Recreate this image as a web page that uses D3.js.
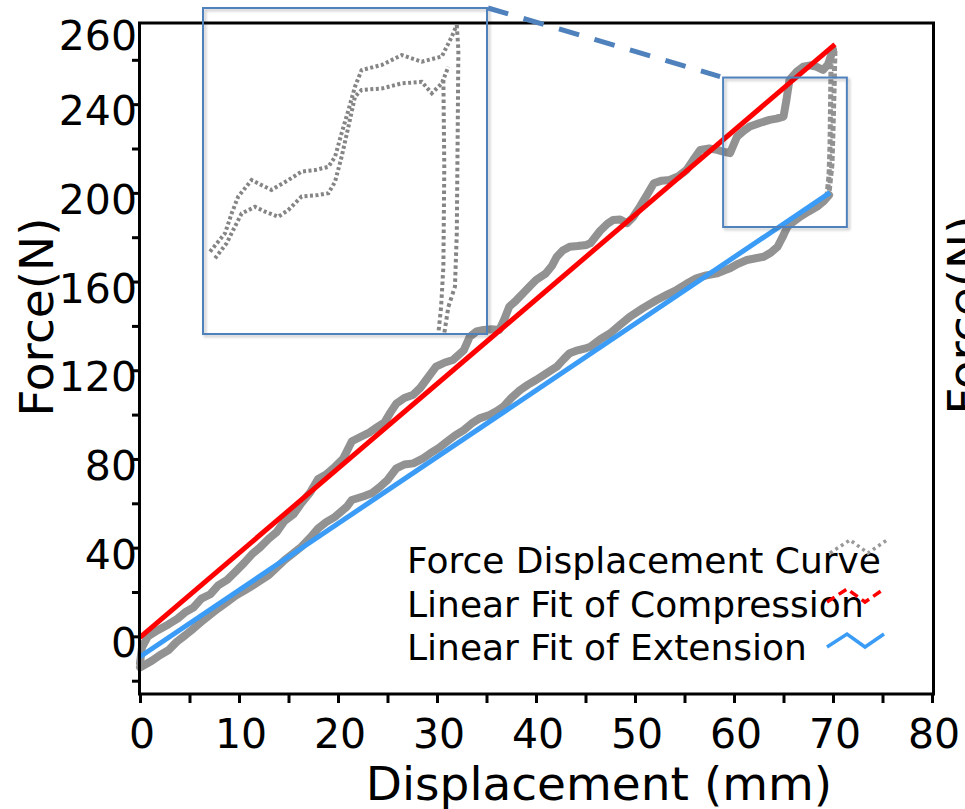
<!DOCTYPE html>
<html>
<head>
<meta charset="utf-8">
<script src="https://cdn.jsdelivr.net/npm/d3@7/dist/d3.min.js"></script>
<style>
  html, body { margin: 0; padding: 0; background: #fff; }
  svg { display: block; font-family: "DejaVu Sans", Verdana, sans-serif; }
</style>
</head>
<body>
<svg id="chart" width="965" height="809"></svg>
<script>
// ---------------- DATA ----------------
const xTickValues = [0,5,10,15,20,25,30,35,40,45,50,55,60,65,70,75,80];
const xLabelValues = [0,10,20,30,40,50,60,70,80];
const yTickValues = [-20,0,20,40,60,80,100,120,140,160,180,200,220,240,260];
const yLabelValues = [0,40,80,120,160,200,240,274];
const yLabelTexts  = ["0","40","80","120","160","200","240","260"];

// Compression (loading) branch: [displacement mm, force N]
const compressionCurve = [
  [0,-12],[0.2,-5],[0.8,0],[1.8,2.8],[2.9,5.5],[3.8,8],[4.6,11],[5.4,13],[6.2,17],[7.1,19],
  [7.9,23],[8.8,25.5],[9.6,29],[10.5,33],[11.3,37],[12.1,40],[13.0,44],[13.8,47],[14.6,52],
  [15.5,55],[16.3,60],[17.2,65],[18.0,71],[18.8,73],[19.7,76.5],[20.5,80],[21.4,88],[22.3,90],
  [23.2,92],[24.0,94.5],[24.7,96.5],[25.3,101],[25.9,105],[26.7,107.5],[27.6,109],[28.3,112],
  [28.9,115.6],[29.9,121.6],[30.8,123.5],[31.6,124.6],[32.2,127],[32.7,129],[33.3,135],
  [34.0,137.5],[34.7,138.2],[35.5,138.5],[36.3,138.2],[36.8,143],[37.3,148.7],[38.0,151.5],
  [38.7,154.7],[39.4,158],[40.0,160.7],[41.0,163.7],[41.6,167],[42.1,171.2],[42.7,174],
  [43.4,175.7],[44.2,176],[45.1,176.5],[45.5,177.3],[46.5,183],[47.2,186],[47.8,187.8],
  [48.5,188],[49.2,186.3],[49.8,189],[50.5,193.8],[51.2,199],[51.9,204.3],[52.7,205.5],
  [53.5,205.8],[54.4,207.5],[55.2,210.3],[55.9,215],[56.6,219.4],[57.5,220],[58.3,219.4],
  [59.0,218.5],[59.6,217.9],[60.3,225.3],[61.0,228],[61.6,229.9],[62.6,231.5],[63.6,232.9],
  [64.3,233.5],[65.0,234.4],[65.3,242],[65.6,250.9],[66.3,254.5],[67.0,256.9],[67.7,257.5],
  [68.3,256.9],[69.0,255.4],[69.5,258],[70.0,264.5]
];
// Extension (unloading) branch
const extensionCurve = [
  [0,-14],[1.2,-11],[2.0,-8.5],[2.9,-6.2],[3.7,-2.5],[4.6,0.6],[5.4,3.5],[6.2,6.6],[7.0,9.5],
  [7.9,12.6],[8.8,15.5],[9.6,18.2],[10.5,20.5],[11.3,22.7],[12.1,25],[13.0,27.6],[13.8,31],
  [14.6,34.4],[15.5,37.5],[16.3,40.4],[17.2,44.5],[18.0,48.7],[18.8,51.5],[19.7,53.9],
  [20.9,58.5],[21.4,61.5],[22.6,63.2],[23.4,64.5],[24.2,67.3],[25.0,70.5],[25.9,75.8],
  [26.7,77.5],[27.6,78],[28.5,80],[29.3,82.5],[30.2,85],[31.0,87.8],[31.8,90.5],[32.7,93],
  [33.5,96],[34.3,98.3],[35.3,99.8],[36.0,101.5],[36.7,103.6],[37.5,107.5],[38.4,111.1],
  [39.2,113.5],[40.0,115.6],[41.0,118.5],[42.1,121.6],[42.8,125],[43.4,127.7],[44.2,129],
  [45.1,130],[45.5,130.6],[46.5,134],[47.5,136.7],[48.5,140.5],[49.5,144.2],[50.8,148],
  [52.2,151.7],[53.2,154],[54.2,156.2],[55.2,159],[56.2,161.5],[57.2,162.8],[58.3,163.7],
  [59.0,165],[59.6,166],[60.4,168],[61.3,169.7],[62.2,170.5],[63.0,171.2],[63.7,173],
  [64.4,175.7],[64.9,180],[65.4,184.8],[66.0,187],[66.7,189.3],[67.5,191.5],[68.4,193.8],
  [69.0,196],[69.6,199]
];
// Unloading drop at max displacement (two overlapping cycles)
const dropA = [[70.2,264],[70.1,245],[70.0,228],[69.9,213],[69.6,200]];
const dropB = [[69.8,258],[69.75,240],[69.7,222],[69.6,208],[69.4,199]];

// Linear fits (end points)
const compressionFit = [[0,-0.5],[70.2,267]];
const extensionFit   = [[0,-9.2],[69.7,200.1]];

// Zoomed inset data (magnified view of the peak region)
const insetX = [58.9, 71.4];
const insetY = [184.6, 273.3];
const zoomBoxX = [58.9, 71.4];
const zoomBoxY = [184.6, 252];
const insetStrandTop = [
  [59.21,207.0],[59.87,212.0],[60.16,217.4],[60.45,222.0],[61.04,226.5],[61.48,225.1],
  [61.92,223.8],[62.66,226.5],[63.24,228.8],[63.83,229.2],[64.42,230.1],[64.71,232.8],
  [65.0,239.2],[65.3,245.5],[65.59,251.9],[65.88,256.4],[66.77,257.8],[67.65,260.5],
  [68.53,258.7],[69.41,260.1],[69.85,265.5],[70.07,268.7]
];
const insetStrandBottom = [
  [59.43,205.2],[59.94,209.3],[60.23,212.9],[60.6,217.4],[61.19,219.2],[61.63,217.9],
  [62.21,216.5],[62.65,218.3],[63.24,222.0],[63.97,222.4],[64.42,222.9],[64.71,226.0],
  [65.0,232.8],[65.3,241.0],[65.59,249.2],[65.88,251.0],[66.77,251.4],[67.65,252.8],
  [68.53,253.2],[68.97,250.1],[69.41,252.8],[69.7,257.3]
];
const insetDropRight = [[70.07,268.7],[70.14,261.9],[70.11,239.2],[70.07,212.0],[69.99,197.5],[69.7,192.0],[69.52,184.8]];
const insetDropLeft  = [[69.48,253.7],[69.52,230.1],[69.48,202.9],[69.38,192.0],[69.26,184.8]];

const legendItems = ["Force Displacement Curve","Linear Fit of Compression","Linear Fit of Extension"];

// ---------------- DRAW ----------------
const svg = d3.select("#chart");
const FONT = "DejaVu Sans, Verdana, sans-serif";
const GRAY = "#929292", RED = "#ff0000", BLUE = "#3a9cf6", BOXBLUE = "#4f81bd";

const x = d3.scaleLinear().domain([0, 80]).range([140, 932]);
const y = d3.scaleLinear().domain([-26, 276.6]).range([694, 23]);

const defs = svg.append("defs");
const shadow = defs.append("filter").attr("id","shadow").attr("x","-10%").attr("y","-10%").attr("width","130%").attr("height","130%");
shadow.append("feDropShadow").attr("dx",2).attr("dy",2).attr("stdDeviation",1.5).attr("flood-color","#000").attr("flood-opacity",0.25);

const line = d3.line().x(d => x(d[0])).y(d => y(d[1]));

// gray data band
svg.append("path").attr("d", line(extensionCurve)).attr("fill","none")
  .attr("stroke",GRAY).attr("stroke-width",8).attr("stroke-linejoin","round").attr("stroke-linecap","round");
svg.append("path").attr("d", line(compressionCurve)).attr("fill","none")
  .attr("stroke",GRAY).attr("stroke-width",8).attr("stroke-linejoin","round").attr("stroke-linecap","round");
[dropA, dropB].forEach(d => {
  svg.append("path").attr("d", line(d)).attr("fill","none")
    .attr("stroke",GRAY).attr("stroke-width",5).attr("stroke-dasharray","5,2.5");
});

// fit lines
svg.append("path").attr("d", line(compressionFit)).attr("fill","none").attr("stroke",RED).attr("stroke-width",5);
svg.append("path").attr("d", line(extensionFit)).attr("fill","none").attr("stroke",BLUE).attr("stroke-width",5);

// frame
svg.append("rect").attr("x", x(0) - 0.5).attr("y", y(276.6)).attr("width", x(80) - x(0) + 2).attr("height", y(-26) - y(276.6))
  .attr("fill","none").attr("stroke","#000").attr("stroke-width",3);

// x axis ticks
const xAxis = d3.axisBottom(x).tickValues(xTickValues).tickSize(8).tickSizeOuter(0).tickFormat("");
const gx = svg.append("g").attr("transform", `translate(0,${y(-26) + 1})`).call(xAxis);
gx.select(".domain").remove();
gx.selectAll(".tick line").attr("stroke","#000").attr("stroke-width",3);
svg.append("g").selectAll("text").data(xLabelValues).join("text")
  .attr("x", d => x(d) + 2).attr("y", 748).attr("text-anchor","middle")
  .attr("font-family",FONT).attr("font-size",41).text(d => d);

// y axis ticks
const yAxis = d3.axisLeft(y).tickValues(yTickValues).tickSize(7).tickSizeOuter(0).tickFormat("");
const gy = svg.append("g").attr("transform", `translate(${x(0) - 1},0)`).call(yAxis);
gy.select(".domain").remove();
gy.selectAll(".tick line").attr("stroke","#000").attr("stroke-width",3);
svg.append("g").selectAll("text").data(yLabelValues).join("text")
  .attr("x", 137).attr("y", d => y(d) + 21).attr("text-anchor","end")
  .attr("font-family",FONT).attr("font-size",41).text((d,i) => yLabelTexts[i]);

// axis titles
svg.append("text").attr("x", 599).attr("y", 800).attr("text-anchor","middle")
  .attr("font-family",FONT).attr("font-size",47).text("Displacement (mm)");
svg.append("text").attr("transform","translate(53,317) rotate(-90)").attr("text-anchor","middle")
  .attr("font-family",FONT).attr("font-size",47).text("Force(N)");
// neighbouring panel's y title (cut off at right edge)
svg.append("text").attr("transform","translate(981,315) rotate(-90)").attr("text-anchor","middle")
  .attr("font-family",FONT).attr("font-size",47).text("Force(N)");

// zoom box on the main plot
svg.append("rect").attr("x", x(zoomBoxX[0])).attr("y", y(zoomBoxY[1]))
  .attr("width", x(zoomBoxX[1]) - x(zoomBoxX[0])).attr("height", y(zoomBoxY[0]) - y(zoomBoxY[1]))
  .attr("fill","none").attr("stroke",BOXBLUE).attr("stroke-width",2).attr("filter","url(#shadow)");

// inset
const xi = d3.scaleLinear().domain(insetX).range([203, 487]);
const yi = d3.scaleLinear().domain(insetY).range([334, 8]);
defs.append("clipPath").attr("id","insetClip").append("rect")
  .attr("x",203).attr("y",8).attr("width",284).attr("height",326);
const lineI = d3.line().x(d => xi(d[0])).y(d => yi(d[1]));
const gi = svg.append("g").attr("clip-path","url(#insetClip)");
[insetStrandTop, insetStrandBottom].forEach(d => {
  gi.append("path").attr("d", lineI(d)).attr("fill","none").attr("stroke","#858585")
    .attr("stroke-width",4).attr("stroke-dasharray","3,2.5");
});
[insetDropRight, insetDropLeft].forEach(d => {
  gi.append("path").attr("d", lineI(d)).attr("fill","none").attr("stroke","#858585")
    .attr("stroke-width",4).attr("stroke-dasharray","3.5,3");
});
svg.append("rect").attr("x",203).attr("y",8).attr("width",284).attr("height",326)
  .attr("fill","none").attr("stroke",BOXBLUE).attr("stroke-width",2).attr("filter","url(#shadow)");

// dashed connector
svg.append("line").attr("x1",488).attr("y1",8).attr("x2",x(zoomBoxX[0]) - 3).attr("y2",y(zoomBoxY[1]) - 1)
  .attr("stroke",BOXBLUE).attr("stroke-width",5).attr("stroke-dasharray","21,16");

// legend
const lg = svg.append("g");
legendItems.forEach((t,i) => {
  lg.append("text").attr("x",407).attr("y",573 + i * 43.5)
    .attr("font-family",FONT).attr("font-size",36).text(t);
});
const zig = (x0, y0) => `M${x0},${y0} L${x0+20},${y0-13} L${x0+38},${y0} L${x0+57},${y0-13}`;
lg.append("path").attr("d", zig(830,553)).attr("fill","none").attr("stroke","#9a9a9a")
  .attr("stroke-width",3.5).attr("stroke-dasharray","3,3.5");
lg.append("path").attr("d", zig(827,602)).attr("fill","none").attr("stroke",RED)
  .attr("stroke-width",3.5).attr("stroke-dasharray","9,5");
lg.append("path").attr("d", zig(827,647)).attr("fill","none").attr("stroke",BLUE)
  .attr("stroke-width",3.5);
</script>
</body>
</html>
